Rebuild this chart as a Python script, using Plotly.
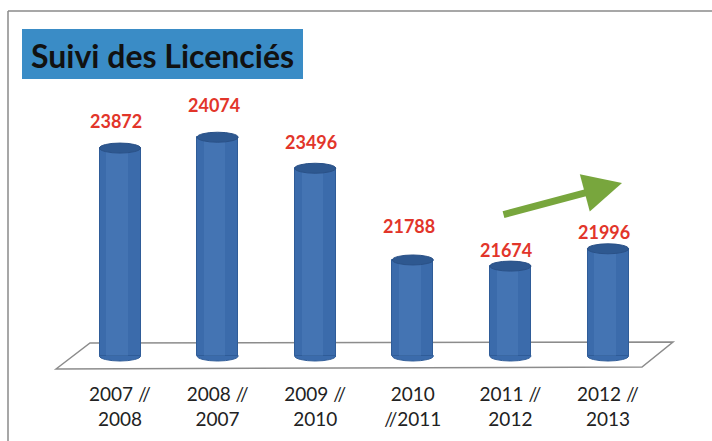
import plotly.graph_objects as go

# ---- data ----
categories = ["2007 //<br>2008", "2008 //<br>2007", "2009 //<br>2010",
              "2010<br>//2011", "2011 //<br>2012", "2012 //<br>2013"]
licencies = [23872, 24074, 23496, 21788, 21674, 21996]
title_text = "Suivi des Licenciés"

# ---- style / layout parameters ----
W, H = 712, 441
MB = 70                      # bottom margin -> plot area = 0..371 px
PH = H - MB
BASE = 20000
label_yshift = [27, 32, 26, 34, 16, 17]
bar_w = 0.42

def px(x):  # pixel -> paper x
    return x / W

def py(y):  # pixel -> paper y
    return (PH - y) / PH

xs = list(range(len(categories)))

fig = go.Figure()
# main cylinder body
fig.add_trace(go.Bar(x=xs, y=[v - BASE for v in licencies], base=BASE, width=bar_w,
                     marker=dict(color="#3B6BAB", line=dict(color="#2F5C98", width=1)),
                     hoverinfo="skip", showlegend=False))
# soft highlight band to fake the cylinder shading
fig.add_trace(go.Bar(x=xs, y=[v - BASE for v in licencies], base=BASE, width=0.22,
                     offset=-0.14,
                     marker=dict(color="rgba(110,160,215,0.18)", line=dict(width=0)),
                     hoverinfo="skip", showlegend=False))

shapes = []
# floor parallelogram
shapes.append(dict(type="path", xref="paper", yref="paper", layer="below",
                   path=f"M {px(56)},{py(369)} L {px(90)},{py(343)} L {px(673)},{py(342)} L {px(642)},{py(367)} Z",
                   line=dict(color="#8C8C8C", width=1.5), fillcolor="rgba(0,0,0,0)"))
for i, v in enumerate(licencies):
    # bottom ellipse
    shapes.append(dict(type="circle", xref="x", yref="y", layer="below",
                       x0=i - bar_w / 2, x1=i + bar_w / 2,
                       ysizemode="pixel", yanchor=BASE, y0=-5, y1=5,
                       fillcolor="#3B6BAB", line=dict(color="#2F5C98", width=1)))
    # top ellipse
    shapes.append(dict(type="circle", xref="x", yref="y", layer="above",
                       x0=i - bar_w / 2, x1=i + bar_w / 2,
                       ysizemode="pixel", yanchor=v, y0=-5, y1=5,
                       fillcolor="#2E5890", line=dict(color="#2A5187", width=1)))
# frame lines
shapes.append(dict(type="line", xref="paper", yref="paper", x0=px(8), x1=px(712),
                   y0=py(11), y1=py(11), line=dict(color="#8A8A8A", width=1.5)))
shapes.append(dict(type="line", xref="paper", yref="paper", x0=px(8), x1=px(8),
                   y0=py(11), y1=py(441), line=dict(color="#8A8A8A", width=1.5)))
# title box
shapes.append(dict(type="rect", xref="paper", yref="paper", layer="below",
                   x0=px(22), x1=px(303), y0=py(79), y1=py(29),
                   fillcolor="#3A8CC6", line=dict(width=0)))

annotations = []
annotations.append(dict(xref="paper", yref="paper", x=px(162), y=py(55),
                        text=f"<b>{title_text}</b>", showarrow=False,
                        font=dict(family="Lato", size=32, color="#111111"),
                        xanchor="center", yanchor="middle"))
for i, v in enumerate(licencies):
    annotations.append(dict(x=i, y=v, xref="x", yref="y", text=f"<b>{v}</b>",
                            showarrow=False, yshift=label_yshift[i], xshift=-4,
                            font=dict(family="Lato", size=18, color="#E2352A"),
                            xanchor="center", yanchor="middle"))
# green trend arrow
annotations.append(dict(xref="paper", yref="paper", x=px(622), y=py(183),
                        ax=-120, ay=32, text="", showarrow=True,
                        arrowhead=2, arrowsize=1.1, arrowwidth=7, arrowcolor="#78A63D"))

fig.update_layout(
    width=W, height=H,
    margin=dict(l=0, r=0, t=0, b=MB),
    paper_bgcolor="white", plot_bgcolor="white",
    barmode="overlay", bargap=0,
    shapes=shapes, annotations=annotations,
    showlegend=False,
)
fig.update_xaxes(range=[-120 / 97.6, (W - 120) / 97.6], tickmode="array",
                 tickvals=xs, ticktext=categories, showgrid=False, zeroline=False,
                 showline=False, ticks="", ticklabelstandoff=10,
                 tickfont=dict(family="Lato", size=19, color="#222222"))
fig.update_yaxes(range=[BASE - 15 / 0.0537, BASE + 356 / 0.0537], visible=False)

fig.write_html("out.html")
